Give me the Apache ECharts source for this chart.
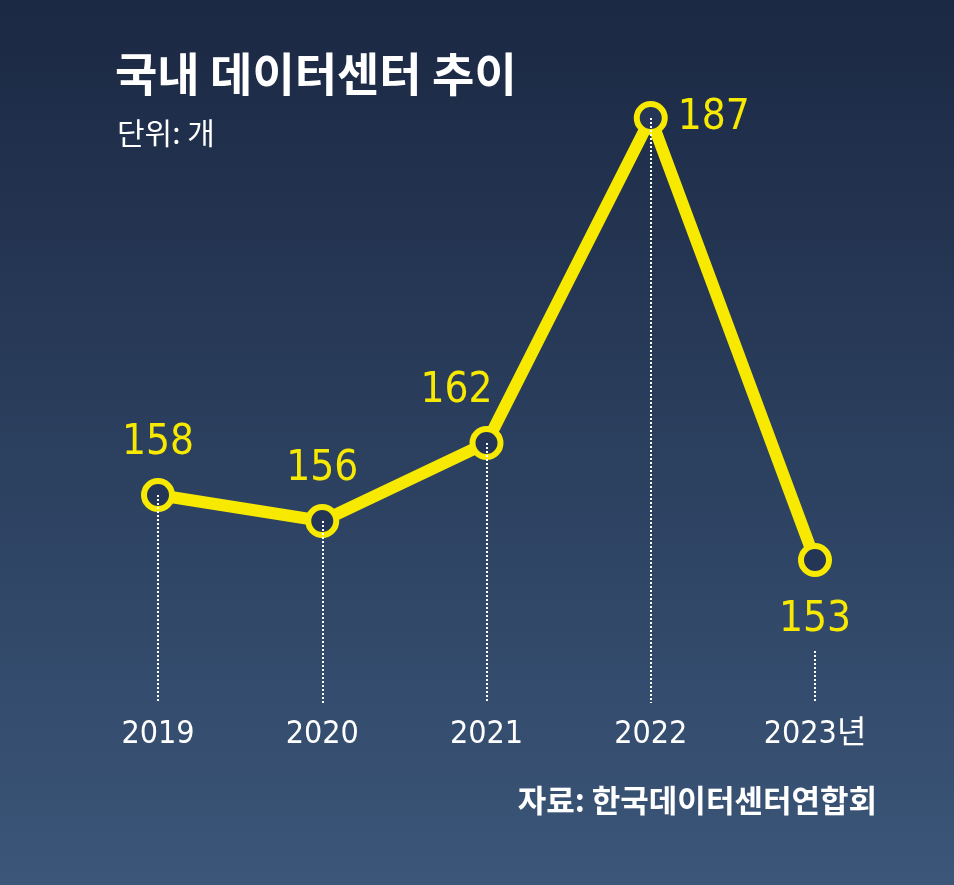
<!DOCTYPE html>
<html><head><meta charset="utf-8">
<script src="https://cdn.jsdelivr.net/npm/echarts@6/dist/echarts.min.js"></script>
<style>html,body{margin:0;padding:0;background:#fff}#c{width:954px;height:885px}</style>
</head><body><div id="c"></div>
<script>
const categories = ['2019','2020','2021','2022','2023년'];
const values = [158,156,162,187,153];
const labelPos = ['top','top','top','right','bottom'];
const axisMin = 142;
const chart = echarts.init(document.getElementById('c'));
const nf = '"Liberation Sans Narrow","DejaVu Sans Condensed","Liberation Sans","Noto Sans CJK KR",sans-serif';
chart.setOption({
  backgroundColor: {type:'linear',x:0,y:0,x2:0,y2:1,colorStops:[{offset:0,color:'#1b2843'},{offset:1,color:'#3b5679'}]},
  title:[
    {text:'국내 데이터센터 추이',left:110,top:46,textStyle:{color:'#fff',fontSize:46,fontWeight:'bold',fontFamily:'"Noto Sans CJK KR",sans-serif'}},
    {text:'단위: 개',left:112,top:113,textStyle:{color:'#fff',fontSize:30,fontWeight:'normal',fontFamily:'"Noto Sans CJK KR",sans-serif'}},
    {text:'자료: 한국데이터센터연합회',right:72,top:780,textStyle:{color:'#fff',fontSize:31,fontWeight:'bold',fontFamily:'"Noto Sans CJK KR",sans-serif'}}
  ],
  grid:{left:158,right:139,top:79,bottom:182},
  xAxis:{type:'category',data:categories,boundaryGap:false,axisLine:{show:false},axisTick:{show:false},
    axisLabel:{color:'#fff',fontSize:32,margin:16,fontFamily:nf}},
  yAxis:{type:'value',min:axisMin,max:190,show:false,splitLine:{show:false}},
  series:[{
    type:'line',data:values.map((v,i)=>({value:v,label:{position:labelPos[i],
      distance:labelPos[i]==='bottom'?22:(labelPos[i]==='right'?10:14),
      offset:i===2?[-30,0]:[0,0]}})),
    lineStyle:{color:'#f7ea00',width:12},
    symbol:'circle',symbolSize:28,
    itemStyle:{color:'#243556',borderColor:'#f7ea00',borderWidth:6},
    label:{show:true,color:'#f7ea00',fontSize:42,fontFamily:nf},
    z:3,
    markLine:{silent:true,symbol:'none',label:{show:false},
      lineStyle:{color:'#fff',type:'dotted',width:2},
      data:values.map((v,i)=>[{coord:[categories[i], i===4?146:v]},{coord:[categories[i],axisMin]}])}
  }]
});
</script></body></html>
